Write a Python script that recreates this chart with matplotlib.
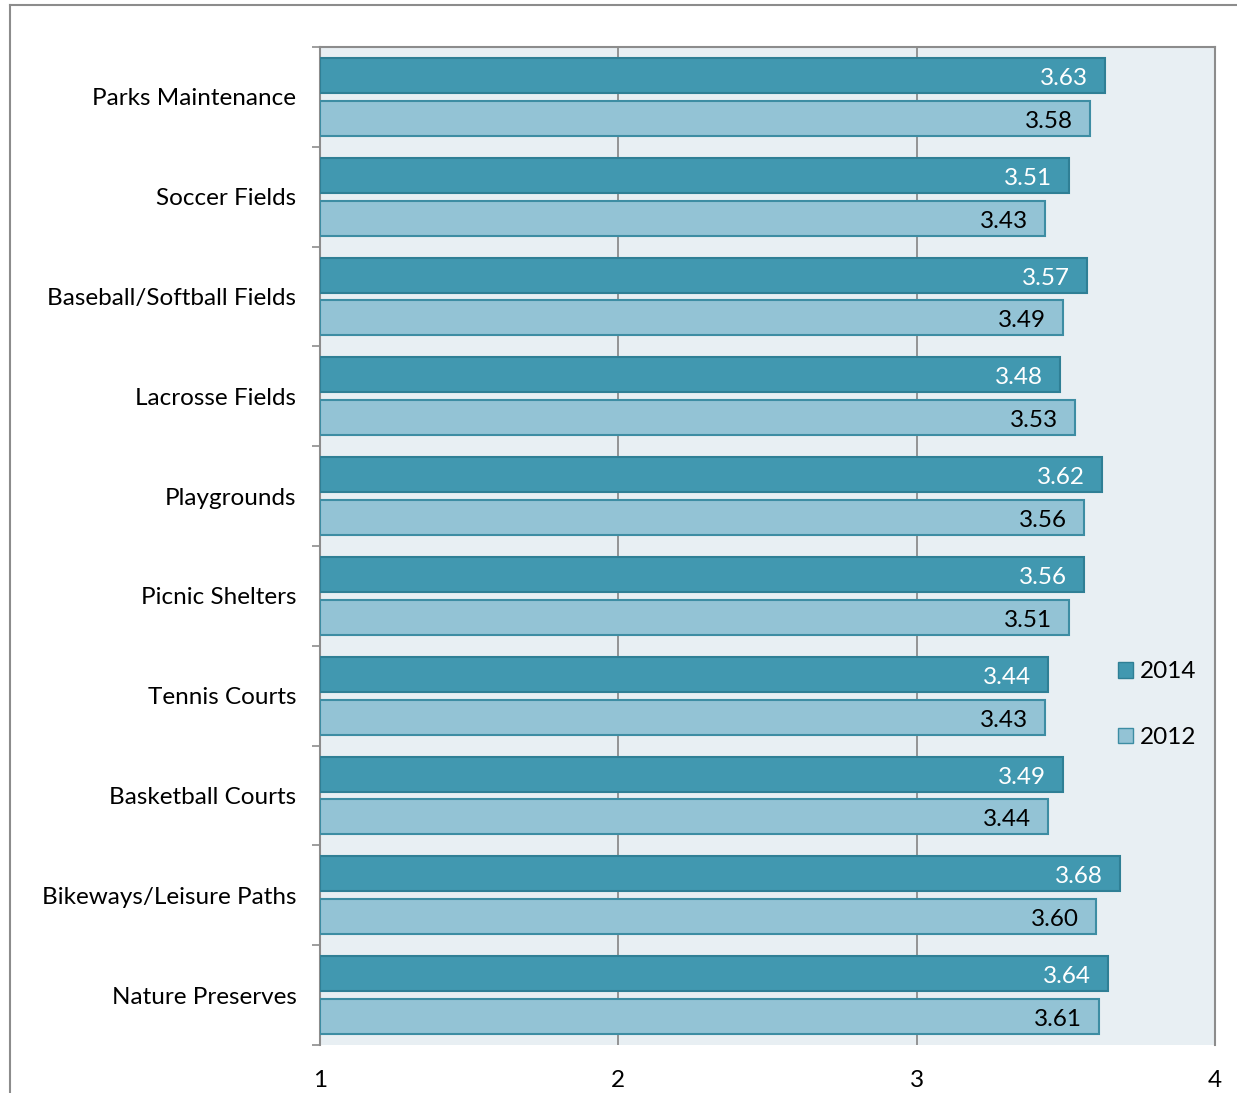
import numpy as np
import matplotlib.pyplot as plt
from matplotlib.lines import Line2D
from matplotlib.patches import Patch

plt.rcParams['font.family'] = ['Lato', 'DejaVu Sans']

categories = ['Parks Maintenance', 'Soccer Fields', 'Baseball/Softball Fields',
              'Lacrosse Fields', 'Playgrounds', 'Picnic Shelters', 'Tennis Courts',
              'Basketball Courts', 'Bikeways/Leisure Paths', 'Nature Preserves']
vals_2014 = [3.63, 3.51, 3.57, 3.48, 3.62, 3.56, 3.44, 3.49, 3.68, 3.64]
vals_2012 = [3.58, 3.43, 3.49, 3.53, 3.56, 3.51, 3.43, 3.44, 3.60, 3.61]
xticks = [1, 2, 3, 4]

dark = '#4198B0'
dark_edge = '#2F7F95'
light = '#93C3D5'
light_edge = '#3D8DA3'
grid_gray = '#8C8C8C'
fs = 17.5

fig = plt.figure(figsize=(12.37, 10.93), dpi=100)
ax = fig.add_axes([320 / 1237, 48 / 1093, 895 / 1237, 998 / 1093])
ax.set_facecolor('#E8EFF3')

y = np.arange(len(categories))
h = 0.35
off = 0.215
ax.barh(y - off, np.array(vals_2014) - 1, left=1, height=h, color=dark,
        edgecolor=dark_edge, linewidth=1.5, label='2014', zorder=3)
ax.barh(y + off, np.array(vals_2012) - 1, left=1, height=h, color=light,
        edgecolor=light_edge, linewidth=1.5, label='2012', zorder=3)

# value labels at the bar ends
for yi, v in zip(y, vals_2014):
    ax.annotate(f'{v:.2f}', (v, yi - off), xytext=(-17, -3), textcoords='offset pixels',
                ha='right', va='center', color='white', fontsize=fs, zorder=4)
for yi, v in zip(y, vals_2012):
    ax.annotate(f'{v:.2f}', (v, yi + off), xytext=(-17, -3), textcoords='offset pixels',
                ha='right', va='center', color='black', fontsize=fs, zorder=4)

ax.set_xlim(1, 4)
ax.set_ylim(len(categories) - 0.5, -0.5)
ax.set_xticks(xticks)
ax.set_xticklabels([str(t) for t in xticks], fontsize=fs)
ax.set_yticks(y)
ax.set_yticklabels(categories, fontsize=fs)
ax.set_yticks(np.arange(len(categories) + 1) - 0.5, minor=True)
ax.tick_params(axis='y', which='major', length=0, pad=17)
ax.tick_params(axis='y', which='minor', length=5.5, width=1.2, color=grid_gray)
ax.tick_params(axis='x', length=0, pad=18)

ax.grid(axis='x', color=grid_gray, linewidth=1.3, zorder=1)
ax.set_axisbelow(True)
for side in ['left', 'top', 'right']:
    ax.spines[side].set_color(grid_gray)
    ax.spines[side].set_linewidth(1.5)
ax.spines['bottom'].set_visible(False)

ax.legend(handles=[Patch(facecolor=dark, edgecolor=dark_edge, label='2014'),
                   Patch(facecolor=light, edgecolor=light_edge, label='2012')],
          frameon=False, fontsize=fs, loc='center left',
          bbox_to_anchor=(0.867, 0.341), labelspacing=1.85,
          handlelength=0.62, handleheight=0.62, handletextpad=0.3)

# outer chart border
fig.add_artist(Line2D([10 / 1237, 1], [1 - 5 / 1093, 1 - 5 / 1093],
                      transform=fig.transFigure, color=grid_gray, linewidth=1.5))
fig.add_artist(Line2D([10 / 1237, 10 / 1237], [0, 1 - 5 / 1093],
                      transform=fig.transFigure, color=grid_gray, linewidth=1.5))

fig.savefig('out.png', dpi=100)
